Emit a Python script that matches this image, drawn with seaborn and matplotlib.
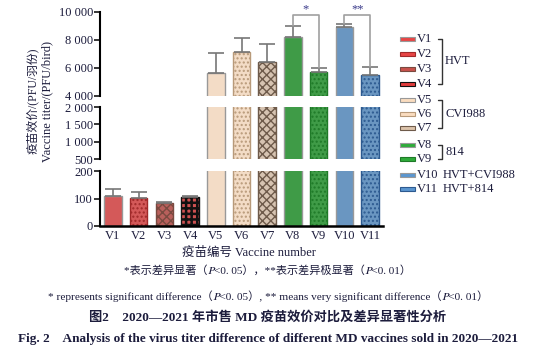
import numpy as np
import pandas as pd
import matplotlib
matplotlib.use('Agg')
import matplotlib.pyplot as plt
import seaborn as sns
from matplotlib.patches import Rectangle

# data
vaccines = ['V1', 'V2', 'V3', 'V4', 'V5', 'V6', 'V7', 'V8', 'V9', 'V10', 'V11']
titer_mean = [110, 103, 85, 107, 5620, 7120, 6400, 8240, 5690, 8900, 5500]
titer_sd = [23, 19, 3, 3, 1430, 1000, 1290, 780, 290, 220, 550]
bar_colors = ['#e84545', '#e84545', '#c9524c', '#e23c3c', '#fadcbf', '#fadcbf',
              '#dcc3ab', '#2fab3a', '#2fab3a', '#5b96d0', '#5b96d0']
hatches = ['', '....', 'xxxx', '+++', '', '....', 'xxxx', '', '....', '', '....']
hatch_colors = ['#999999', '#a02a2a', '#7a4a40', '#111111', '#999999', '#b89a7a',
                '#6e5a4a', '#999999', '#1f7a28', '#999999', '#2d5a90']
groups = ['HVT', 'CVI988', '814', 'HVT+CVI988', 'HVT+814']
group_members = [(0, 3), (4, 6), (7, 8), (9, 9), (10, 10)]
sig_pairs = [(7, 8, '*'), (9, 10, '**')]
sig_level = 9750
panel_ranges = [(4000, 10000), (500, 2000), (0, 200)]
panel_ticks = [[4000, 6000, 8000, 10000], [500, 1000, 1500, 2000], [0, 100, 200]]

df = pd.DataFrame({'vaccine': vaccines, 'titer': titer_mean})

sns.set_style('white')
plt.rcParams['font.family'] = ['Liberation Serif', 'Noto Sans CJK SC', 'STIXGeneral']
plt.rcParams['hatch.linewidth'] = 1.0
txt = '#1c1c3c'

fig = plt.figure(figsize=(5.36, 3.54), dpi=100)
W, H = 536, 354


def px_axes(x0, y0, x1, y1):
    return fig.add_axes([x0 / W, 1 - y1 / H, (x1 - x0) / W, (y1 - y0) / H])


axes = [px_axes(100, 12, 383, 96), px_axes(100, 107, 383, 159), px_axes(100, 171, 383, 226)]

for i, ax in enumerate(axes):
    sns.barplot(data=df, x='vaccine', y='titer', hue='vaccine', palette=bar_colors,
                order=vaccines, errorbar=None, legend=False, width=0.68,
                edgecolor='#999999', linewidth=1.0, ax=ax)
    for j, p in enumerate(ax.patches):
        p.set_hatch(hatches[j])
        try:
            p.set_hatchcolor(hatch_colors[j])
        except AttributeError:
            if hatches[j]:
                p.set_edgecolor(hatch_colors[j])
        if j == 3:
            try:
                p.set_hatch_linewidth(1.8)
            except AttributeError:
                pass
    ax.errorbar(range(len(vaccines)), titer_mean,
                yerr=[np.zeros(len(vaccines)), titer_sd], fmt='none',
                ecolor='#777777', elinewidth=1.2, capsize=5.5, capthick=1.2, zorder=1)
    lo, hi = panel_ranges[i]
    ax.set_ylim(lo, hi)
    ax.set_xlim(-0.5, len(vaccines) - 0.5)
    ax.set_yticks(panel_ticks[i])
    ax.set_yticklabels([f'{v:,}'.replace(',', ' ') for v in panel_ticks[i]],
                       fontsize=9, color=txt)
    ax.tick_params(axis='y', direction='out', length=4, width=1.3, pad=1, left=True)
    ax.set_xlabel('')
    ax.set_ylabel('')
    for s in ['top', 'right', 'bottom']:
        ax.spines[s].set_visible(False)
    ax.spines['left'].set_linewidth(1.5)
    ax.spines['left'].set_color('black')
    if i < 2:
        ax.set_xticks([])
    else:
        ax.spines['bottom'].set_visible(True)
        ax.spines['bottom'].set_linewidth(1.8)
        ax.spines['bottom'].set_color('black')
        ax.tick_params(axis='x', length=0, pad=3, labelsize=9, labelcolor=txt)

# significance brackets
top = axes[0]
for a, b, mark in sig_pairs:
    ya = titer_mean[a] + titer_sd[a]
    yb = titer_mean[b] + titer_sd[b]
    top.plot([a, a, b, b], [ya, sig_level, sig_level, yb], color='#a0a0a0',
             lw=1.2, clip_on=False)
    top.text((a + b) / 2, sig_level + 30, mark, ha='center', va='bottom',
             fontsize=9, color='#3a3a8a', clip_on=False)

# axis labels
fig.text(33 / W, 1 - 101 / H, '疫苗效价/(PFU/羽份)', rotation=90, ha='center',
         va='center', fontsize=8.5, color=txt)
fig.text(47 / W, 1 - 101 / H, 'Vaccine titer/(PFU/bird)', rotation=90, ha='center',
         va='center', fontsize=9, color=txt)
fig.text(249 / W, 1 - 253 / H, '疫苗编号 Vaccine number', ha='center', va='center',
         fontsize=9, color=txt)

# legend with group brackets
entry_y = [39, 54, 69, 84, 100, 114, 128, 145, 159, 175, 189]
for j, name in enumerate(vaccines):
    y = entry_y[j]
    ec = hatch_colors[j] if hatches[j] else '#999999'
    fig.add_artist(Rectangle((400 / W, 1 - (y + 1.8) / H), 15 / W, 3.6 / H,
                             facecolor=bar_colors[j], edgecolor=ec, lw=0.8,
                             transform=fig.transFigure))
    fig.text(416.5 / W, 1 - y / H, name, ha='left', va='center', fontsize=9, color=txt)

for g, (s, e) in zip(groups, group_members):
    y0, y1 = entry_y[s], entry_y[e]
    if e > s:
        fig.lines.append(plt.Line2D([438 / W, 442 / W, 442 / W, 438 / W],
                                    [1 - y0 / H, 1 - y0 / H, 1 - y1 / H, 1 - y1 / H],
                                    color='#333333', lw=1.0, transform=fig.transFigure))
        fig.text(445 / W, 1 - (y0 + y1) / 2 / H, g, ha='left', va='center',
                 fontsize=9, color=txt)
    else:
        fig.text(443 / W, 1 - y0 / H, g, ha='left', va='center', fontsize=9, color=txt)

# captions
fig.text(0.5, 1 - 270 / H, '*表示差异显著（𝑃<0. 05），**表示差异极显著（𝑃<0. 01）',
         ha='center', va='center', fontsize=8, color=txt)
fig.text(0.5, 1 - 296 / H,
         '* represents significant difference（𝑃<0. 05）, ** means very significant difference（𝑃<0. 01）',
         ha='center', va='center', fontsize=8.1, color=txt)
fig.text(0.5, 1 - 317 / H, '图2    2020—2021 年市售 MD 疫苗效价对比及差异显著性分析',
         ha='center', va='center', fontsize=9.5, fontweight='bold', color=txt)
fig.text(0.5, 1 - 339 / H,
         'Fig. 2    Analysis of the virus titer difference of different MD vaccines sold in 2020—2021',
         ha='center', va='center', fontsize=9.5, fontweight='bold', color=txt)

fig.savefig('out.png', dpi=100)
